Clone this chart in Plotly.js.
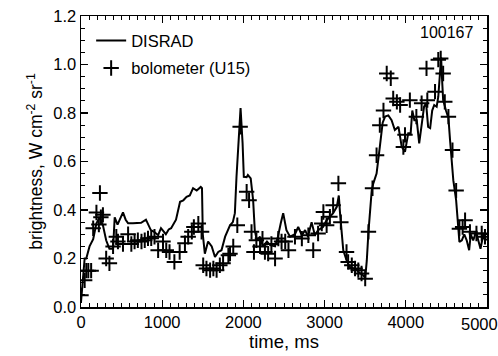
<!DOCTYPE html>
<html>
<head>
<meta charset="utf-8">
<script src="https://cdn.plot.ly/plotly-3.0.1.min.js"></script>
<style>html,body{margin:0;padding:0;background:#fff;}#chart{width:498px;height:356px;}</style>
</head>
<body>
<div id="chart"></div>
<script>
const disradTime = [0, 45, 65, 105, 150, 190, 230, 270, 310, 350, 395, 415, 450, 480, 517, 550, 580, 640, 700, 740, 800, 860, 900, 950, 985, 1045, 1080, 1110, 1170, 1220, 1260, 1300, 1340, 1380, 1425, 1475, 1490, 1500, 1525, 1565, 1610, 1650, 1690, 1730, 1775, 1835, 1870, 1895, 1915, 1945, 1965, 1990, 2005, 2040, 2055, 2090, 2120, 2140, 2165, 2205, 2240, 2290, 2330, 2390, 2425, 2460, 2490, 2530, 2575, 2635, 2675, 2720, 2760, 2795, 2840, 2880, 2920, 2980, 3025, 3065, 3105, 3150, 3175, 3190, 3210, 3230, 3270, 3310, 3350, 3395, 3435, 3475, 3500, 3520, 3540, 3560, 3580, 3600, 3640, 3680, 3715, 3745, 3785, 3825, 3865, 3910, 3930, 3950, 3990, 4010, 4030, 4060, 4080, 4105, 4135, 4165, 4195, 4225, 4250, 4275, 4300, 4325, 4350, 4380, 4400, 4420, 4435, 4445, 4460, 4495, 4525, 4545, 4565, 4585, 4620, 4640, 4660, 4690, 4720, 4750, 4780, 4800, 4830, 4865, 4890, 4920, 4955, 4975, 5000];
const disradValue = [0.02, 0.20, 0.20, 0.25, 0.28, 0.345, 0.37, 0.337, 0.275, 0.24, 0.24, 0.37, 0.34, 0.36, 0.39, 0.36, 0.345, 0.345, 0.345, 0.347, 0.36, 0.317, 0.31, 0.296, 0.325, 0.30, 0.32, 0.325, 0.36, 0.434, 0.44, 0.454, 0.46, 0.49, 0.48, 0.495, 0.49, 0.30, 0.22, 0.27, 0.25, 0.206, 0.227, 0.234, 0.29, 0.337, 0.35, 0.387, 0.537, 0.743, 0.82, 0.675, 0.537, 0.535, 0.544, 0.53, 0.44, 0.317, 0.275, 0.29, 0.25, 0.27, 0.255, 0.25, 0.29, 0.345, 0.387, 0.317, 0.29, 0.30, 0.33, 0.296, 0.317, 0.29, 0.35, 0.296, 0.317, 0.33, 0.358, 0.372, 0.387, 0.413, 0.46, 0.387, 0.29, 0.234, 0.193, 0.165, 0.16, 0.152, 0.139, 0.131, 0.119, 0.193, 0.31, 0.41, 0.48, 0.51, 0.55, 0.66, 0.76, 0.785, 0.79, 0.77, 0.73, 0.743, 0.70, 0.66, 0.64, 0.688, 0.717, 0.717, 0.81, 0.77, 0.77, 0.675, 0.743, 0.826, 0.84, 0.743, 0.738, 0.81, 0.833, 0.826, 0.867, 0.963, 1.03, 0.95, 0.853, 0.81, 0.78, 0.688, 0.62, 0.523, 0.44, 0.344, 0.268, 0.275, 0.30, 0.275, 0.234, 0.30, 0.275, 0.31, 0.275, 0.24, 0.30, 0.275, 0.28];

const boloTime = [0, 45, 65, 90, 125, 150, 190, 220, 233, 245, 270, 310, 350, 395, 435, 455, 517, 580, 620, 660, 700, 745, 785, 825, 865, 905, 950, 1010, 1050, 1090, 1150, 1215, 1280, 1320, 1365, 1390, 1445, 1485, 1505, 1545, 1590, 1630, 1670, 1710, 1750, 1815, 1835, 1875, 1925, 1960, 2040, 2070, 2100, 2130, 2160, 2205, 2235, 2265, 2305, 2345, 2390, 2430, 2470, 2515, 2555, 2635, 2720, 2800, 2860, 2920, 2965, 2985, 3025, 3065, 3105, 3170, 3200, 3270, 3290, 3335, 3375, 3415, 3455, 3500, 3540, 3590, 3640, 3680, 3725, 3765, 3815, 3845, 3890, 3930, 3970, 3990, 4050, 4130, 4195, 4255, 4265, 4360, 4400, 4430, 4460, 4480, 4525, 4575, 4620, 4660, 4700, 4730, 4790, 4870, 4935, 4975];
const boloValue = [0.048, 0.11, 0.15, 0.15, 0.15, 0.325, 0.39, 0.34, 0.47, 0.37, 0.38, 0.20, 0.18, 0.25, 0.29, 0.27, 0.26, 0.30, 0.26, 0.27, 0.275, 0.27, 0.275, 0.283, 0.283, 0.29, 0.234, 0.27, 0.234, 0.227, 0.186, 0.227, 0.263, 0.29, 0.31, 0.33, 0.344, 0.31, 0.172, 0.159, 0.152, 0.159, 0.152, 0.172, 0.18, 0.213, 0.22, 0.25, 0.337, 0.743, 0.475, 0.44, 0.31, 0.227, 0.275, 0.25, 0.282, 0.227, 0.22, 0.26, 0.20, 0.282, 0.27, 0.27, 0.234, 0.29, 0.282, 0.296, 0.234, 0.303, 0.344, 0.392, 0.337, 0.372, 0.42, 0.51, 0.35, 0.227, 0.186, 0.172, 0.159, 0.152, 0.138, 0.117, 0.31, 0.49, 0.626, 0.75, 0.81, 0.963, 0.943, 0.86, 0.846, 0.833, 0.66, 0.71, 0.853, 0.785, 0.84, 0.984, 0.853, 0.888, 1.02, 1.025, 0.963, 0.846, 0.785, 0.647, 0.48, 0.323, 0.33, 0.358, 0.31, 0.303, 0.303, 0.29];

const xTicks = [0, 1000, 2000, 3000, 4000, 5000];
const xTickText = ['0', '1000', '2000', '3000', '4000', '5000'];
const yTicks = [0.0, 0.2, 0.4, 0.6, 0.8, 1.0, 1.2];
const yTickText = ['0.0', '0.2', '0.4', '0.6', '0.8', '1.0', '1.2'];

const FONT = 'Liberation Sans, Arial, sans-serif';
const TICKSIZE = 16.5;

const traces = [
  {x: disradTime, y: disradValue, type: 'scatter', mode: 'lines', name: 'DISRAD', legendgroup: 'a',
   line: {color: '#000', width: 2}},
  {x: boloTime, y: boloValue, type: 'scatter', mode: 'markers', name: 'bolometer (U15)', legendgroup: 'b',
   marker: {symbol: 'cross-thin', size: 11, color: '#000', line: {color: '#000', width: 2}}}
];

const axisCommon = {
  showline: true, linecolor: '#000', linewidth: 1.5, mirror: 'ticks',
  ticks: 'inside', ticklen: 7, tickwidth: 1.2, tickcolor: '#000',
  showgrid: false, zeroline: false,
  tickfont: {family: FONT, size: TICKSIZE, color: '#000'}
};

// the last x label is drawn as an annotation so it can sit inside the page edge
const lastX = xTicks[xTicks.length - 1];
const xTickTextShown = xTickText.map((t, i) => i === xTicks.length - 1 ? '' : t);

const layout = {
  width: 498, height: 356,
  margin: {l: 81, r: 11, t: 16, b: 49},
  paper_bgcolor: '#fff', plot_bgcolor: '#fff',
  font: {family: FONT, color: '#000'},
  xaxis: Object.assign({}, axisCommon, {
    range: [0, 5000], tickvals: xTicks, ticktext: xTickTextShown,
    minor: {ticks: 'inside', dtick: 100, ticklen: 4, tickcolor: '#000', tickwidth: 1},
    title: {text: 'time, ms', font: {family: FONT, size: 18.5, color: '#000'}, standoff: 4}
  }),
  yaxis: Object.assign({}, axisCommon, {
    range: [0, 1.2], tickvals: yTicks, ticktext: yTickText,
    minor: {ticks: 'inside', dtick: 0.05, ticklen: 4, tickcolor: '#000', tickwidth: 1},
    title: {text: 'brightness, W cm<sup>-2</sup> sr<sup>-1</sup>', font: {family: FONT, size: 17.5, color: '#000'}, standoff: 6}
  }),
  showlegend: true,
  legend: {x: 0.025, y: 0.975, xanchor: 'left', yanchor: 'top', bgcolor: 'rgba(0,0,0,0)',
    font: {family: FONT, size: 16.5, color: '#000'}, traceorder: 'grouped', tracegroupgap: 3, itemwidth: 30},
  annotations: [
    {text: '100167', xref: 'paper', yref: 'paper', x: 0.97, y: 0.945,
     xanchor: 'right', yanchor: 'middle', showarrow: false,
     font: {family: FONT, size: 16, color: '#000'}},
    {text: xTickText[xTickText.length - 1], xref: 'x', yref: 'paper', x: lastX, y: 0,
     xanchor: 'right', yanchor: 'top', xshift: 13, yshift: -6, showarrow: false,
     font: {family: FONT, size: TICKSIZE, color: '#000'}}
  ]
};

Plotly.newPlot('chart', traces, layout, {displayModeBar: false, staticPlot: true});
</script>
</body>
</html>
